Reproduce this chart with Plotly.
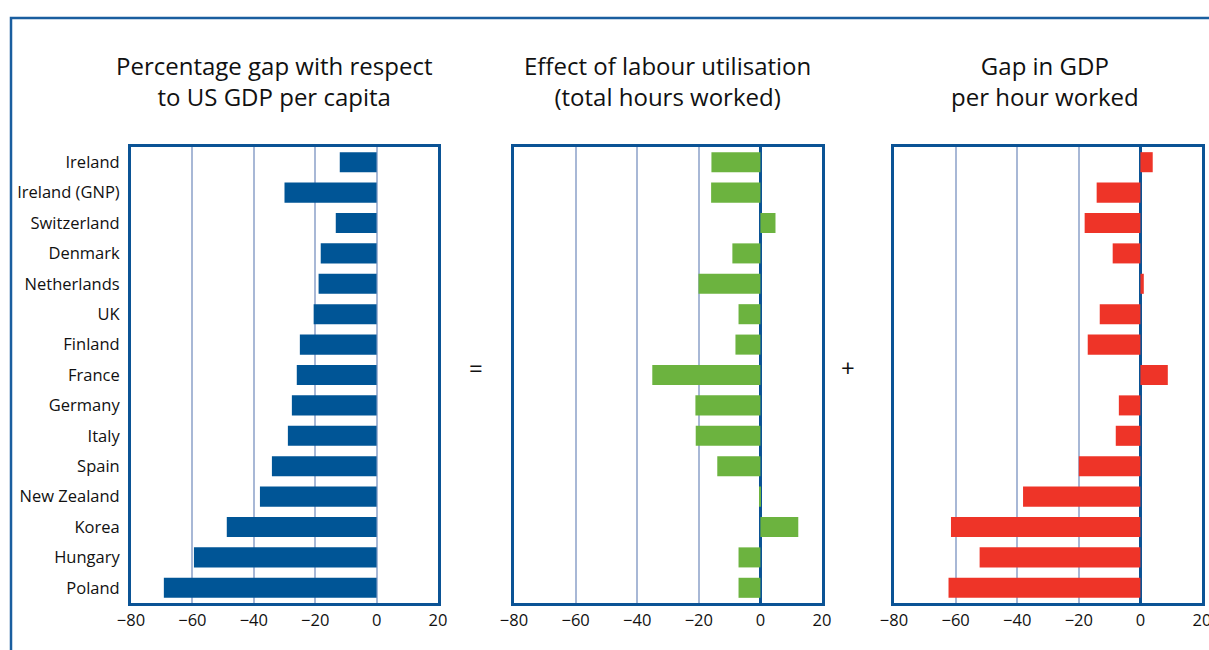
import plotly.graph_objects as go

W, H = 1209, 650

countries = ["Ireland", "Ireland (GNP)", "Switzerland", "Denmark", "Netherlands", "UK",
             "Finland", "France", "Germany", "Italy", "Spain", "New Zealand", "Korea",
             "Hungary", "Poland"]
gdp_gap = [-12, -30, -13.3, -18.2, -18.9, -20.5, -25.0, -26.0, -27.6, -28.9, -34.1,
           -38.0, -48.8, -59.5, -69.3]
labour_effect = [-15.9, -16.0, 4.9, -9.1, -20.1, -7.1, -8.1, -35.1, -21.1, -21.0, -14.0,
                 -0.3, 12.3, -7.1, -7.1]
hour_gap = [4.0, -14.2, -18.1, -9.0, 1.1, -13.2, -17.1, 8.9, -7.0, -8.0, -20.0, -38.1,
            -61.5, -52.2, -62.3]
tick_vals = [-80, -60, -40, -20, 0, 20]
titles = ["Percentage gap with respect<br>to US GDP per capita",
          "Effect of labour utilisation<br>(total hours worked)",
          "Gap in GDP<br>per hour worked"]
colors = ["#005596", "#6cb33f", "#ee3428"]

FRAME = "#0b5395"
GRID = "#a8b8d6"
FONT = "Open Sans"
TXT = "#111111"

def px(x):
    return x / W

def py(y):
    return 1 - y / H

panels = [(131, 438), (514, 822), (894, 1202)]
ytop, ybot = 147, 603

fig = go.Figure()
series = [gdp_gap, labour_effect, hour_gap]
for i, (vals, col) in enumerate(zip(series, colors)):
    sfx = "" if i == 0 else str(i + 1)
    fig.add_trace(go.Bar(
        x=vals, y=countries, orientation="h", marker=dict(color=col, line=dict(width=0)),
        xaxis="x" + sfx, yaxis="y" + sfx, showlegend=False))

layout = dict(width=W, height=H, margin=dict(l=0, r=0, t=0, b=0, autoexpand=False),
              paper_bgcolor="white", plot_bgcolor="white", bargap=0.34,
              font=dict(family=FONT, color=TXT))
for i, (x0, x1) in enumerate(panels):
    sfx = "" if i == 0 else str(i + 1)
    layout["xaxis" + sfx] = dict(
        domain=[px(x0), px(x1)], range=[-80, 20], tickvals=tick_vals,
        showgrid=True, gridcolor=GRID, gridwidth=1.5,
        zeroline=True, zerolinecolor=(GRID if i == 0 else FRAME),
        zerolinewidth=(1.5 if i == 0 else 2.5),
        showline=True, linecolor=FRAME, linewidth=3, mirror=True,
        ticks="", tickfont=dict(size=16.5, family=FONT, color=TXT),
        ticklabeloverflow="allow",
        anchor="y" + sfx, fixedrange=True, automargin=False)
    layout["yaxis" + sfx] = dict(
        domain=[py(ybot), py(ytop)], categoryorder="array", categoryarray=countries,
        autorange="reversed", showgrid=False, zeroline=False,
        showline=True, linecolor=FRAME, linewidth=3, mirror=True,
        showticklabels=(i == 0), ticks="", ticklabelstandoff=5,
        tickfont=dict(size=16.5, family=FONT, color=TXT),
        anchor="x" + sfx, fixedrange=True, automargin=False)
fig.update_layout(**layout)

title_x = [274, 667, 1045]
for t, xc in zip(titles, title_x):
    fig.add_annotation(text=t, x=px(xc), y=py(81), xref="paper", yref="paper",
                       showarrow=False, font=dict(size=24, family=FONT, color=TXT),
                       xanchor="center", yanchor="middle", align="center")

fig.add_annotation(text="=", x=px(476), y=py(367), xref="paper", yref="paper",
                   showarrow=False, font=dict(size=24, family=FONT, color=TXT))
fig.add_annotation(text="+", x=px(857), y=py(367), xref="paper", yref="paper",
                   showarrow=False, font=dict(size=24, family=FONT, color=TXT))

fig.add_shape(type="rect", xref="paper", yref="paper", x0=px(11), x1=1.2,
              y0=-0.2, y1=py(18), line=dict(color="#1a5e9f", width=2.5),
              fillcolor="rgba(0,0,0,0)", layer="below")

fig.write_html("out.html", config={"displayModeBar": False},
               post_script="document.body.style.margin='0';"
                           "document.body.style.overflow='hidden';")
